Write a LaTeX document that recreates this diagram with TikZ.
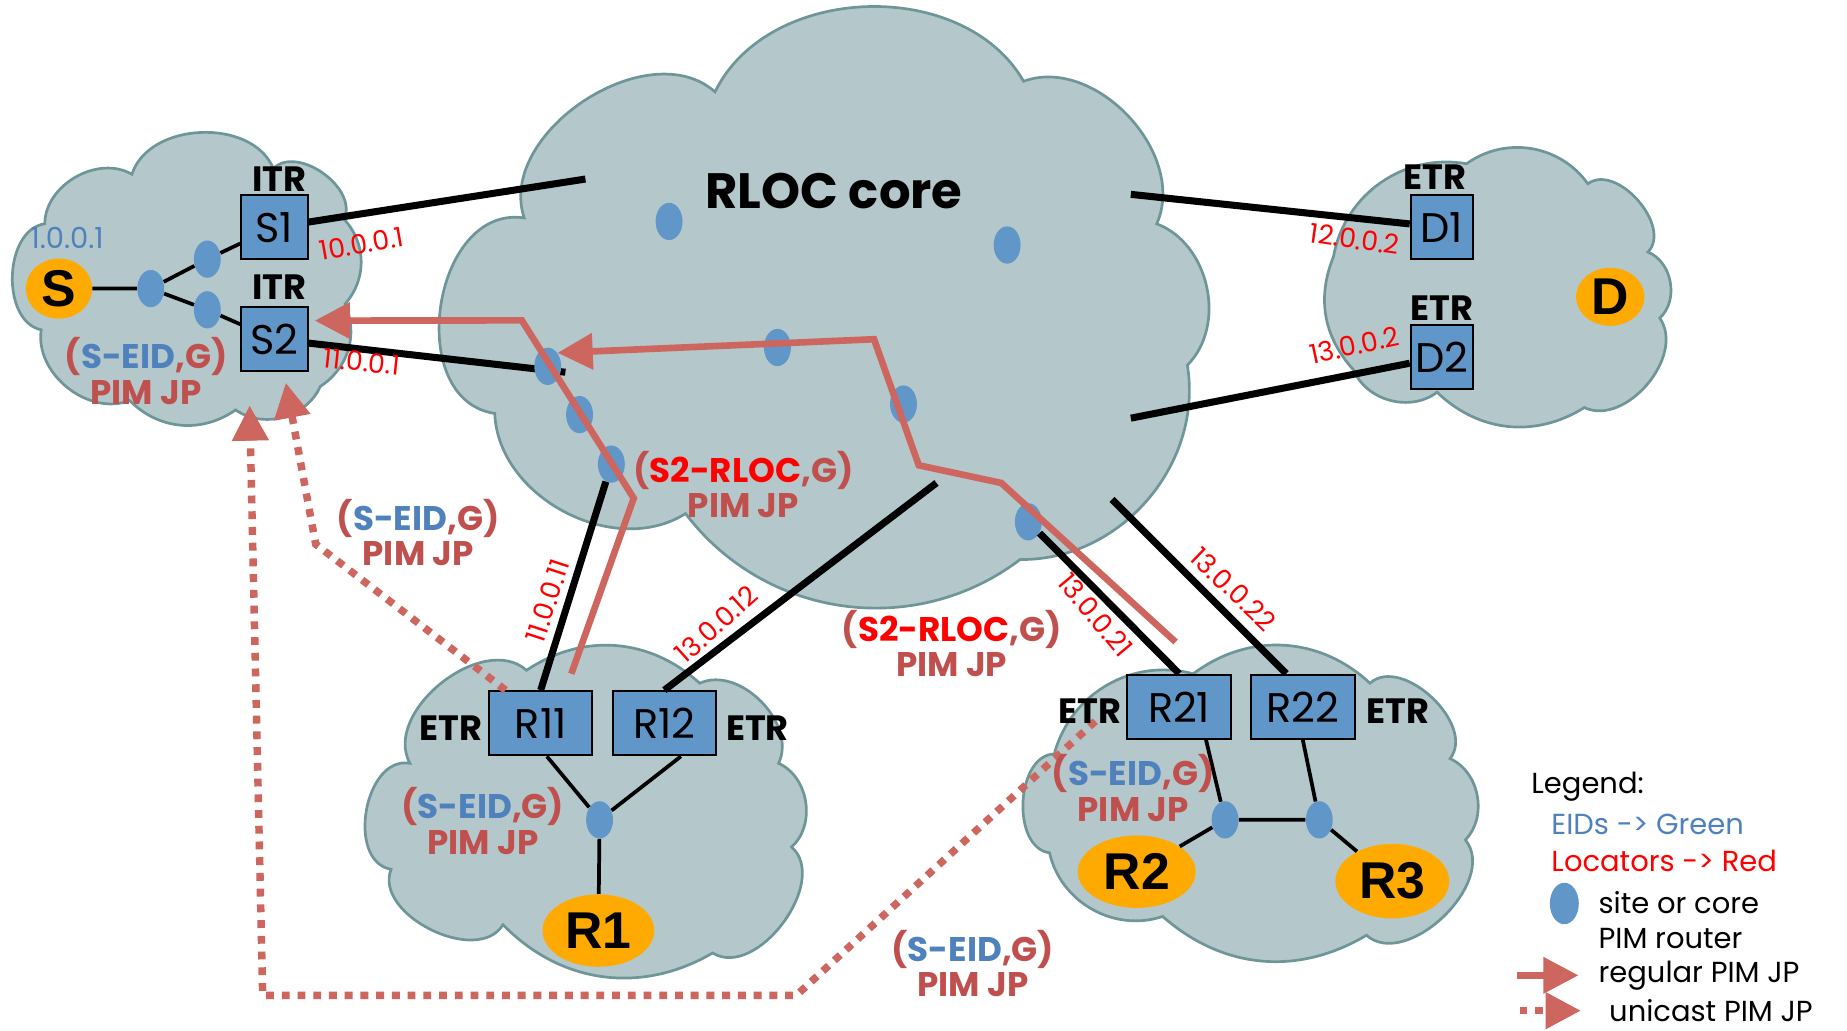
\documentclass[tikz,border=0pt]{standalone}
\usepackage{fontspec}
\setmainfont{Poppins}
\newfontfamily\hostfont{Liberation Sans}
\usetikzlibrary{arrows.meta,shapes.geometric}

\definecolor{cloudfill}{HTML}{B4C7CA}
\definecolor{cloudedge}{HTML}{6E9598}
\definecolor{boxblue}{HTML}{6096C8}
\definecolor{hostorange}{HTML}{FFAA00}
\definecolor{jpred}{HTML}{CD665E}
\definecolor{lblred}{HTML}{C0504D}
\definecolor{eidblue}{HTML}{4F81BD}
\definecolor{ipred}{HTML}{FF0000}

\newcommand{\seid}{{\color{lblred}(}{\color{eidblue}S-EID}{\color{lblred},G)}}
\newcommand{\srloc}{{\color{lblred}(}{\color{ipred}S2-RLOC}{\color{lblred},G)}}

\tikzset{
    cloudline/.style = {draw = cloudedge, fill = cloudfill, line width = 1.3pt},
    rtr/.style = {draw = black, fill = boxblue, line width = 1pt, minimum width = 32pt, minimum height = 31pt, inner sep = 0pt, font = \fontsize{20}{20}\selectfont},
    host/.style = {ellipse, fill = hostorange, inner sep = 0pt, font = \hostfont\bfseries\fontsize{25}{25}\selectfont},
    pimdot/.style = {ellipse, fill = boxblue, minimum width = 13pt, minimum height = 18pt, inner sep = 0pt},
    link/.style = {line width = 3.4pt},
    sitelink/.style = {line width = 1.8pt},
    jp/.style = {draw = jpred, line width = 3.2pt, -{Triangle[length = 17pt, width = 17pt]}},
    ujp/.style = {jp, line width = 3.6pt, dash pattern = on 3.8pt off 3.8pt},
    role/.style = {inner sep = 1pt, font = \bfseries\fontsize{17}{17}\selectfont},
    ip/.style = {inner sep = 0.5pt, text = ipred, font = \fontsize{13}{13}\selectfont},
    pimlabel/.style = {inner sep = 0.5pt, align = center, text = lblred, font = \bfseries\fontsize{16.5}{17}\selectfont},
    legend/.style = {anchor = west, inner sep = 1pt, font = \fontsize{14}{14}\selectfont}
}

\begin{document}
\begin{tikzpicture}[x = 0.02cm, y = -0.02cm]
    \useasboundingbox (0,0) rectangle (1568,875);
    % clouds
    \draw [cloudline] (445,185) to[bend left=75] (607,78) to[bend left=62] (869,69) to[bend left=67] (982,190) to[bend left=57] (1008,310) to[bend left=50] (866,475) to[bend left=45] (582,436) to[bend left=60] (420,351) to[bend left=90, looseness=1.2] (445,185) -- cycle;
    \draw [cloudline] (38,190) to[bend left=60] (112,148) to[bend left=70] (232,143) to[bend left=80] (292,186) to[bend left=42] (293,258) to[bend left=40] (272,328) to[bend left=50] (200,348) to[bend left=40] (110,340) to[bend left=60] (35,280) to[bend left=80] (38,190) -- cycle;
    \draw [cloudline] (1132,218) to[bend left=45] (1245,139) to[bend left=45] (1348,156) to[bend left=85] (1399,214) to[bend left=58] (1409,270) to[bend left=75] (1345,346) to[bend left=38] (1220,333) to[bend left=52] (1149,314) to[bend left=32] (1132,218) -- cycle;
    \draw [cloudline] (348,648) to[bend left=80] (447,569) to[bend left=38] (594,580) to[bend left=70] (661,648) to[bend left=57] (672,719) to[bend left=85] (605,809) to[bend left=38] (427,785) to[bend left=85] (332,738) to[bend left=90, looseness=1.1] (348,648) -- cycle;
    \draw [cloudline] (895,640) to[bend left=45] (1013,572) to[bend left=40] (1163,580) to[bend left=85] (1231,644) to[bend left=55] (1244,713) to[bend left=85] (1160,794) to[bend left=36] (987,778) to[bend left=48] (891,724) to[bend left=85] (895,640) -- cycle;

    % xTR routers
    \node [rtr] (S1) at (233,193) {S1};
    \node [rtr] (S2) at (233,288) {S2};
    \node [rtr, minimum width = 30pt] (D1) at (1224,193) {D1};
    \node [rtr, minimum width = 30pt] (D2) at (1224,303) {D2};
    \node [rtr, minimum width = 50pt] (R11) at (459,614) {R11};
    \node [rtr, minimum width = 50pt] (R12) at (564,614) {R12};
    \node [rtr, minimum width = 50pt] (R21) at (1001,600) {R21};
    \node [rtr, minimum width = 50pt] (R22) at (1106,600) {R22};

    % hosts
    \node [host, minimum width = 32pt, minimum height = 29pt] (S) at (50,245) {S};
    \node [host, minimum width = 33pt, minimum height = 28pt] (D) at (1367,252) {D};
    \node [host, minimum width = 54pt, minimum height = 35pt] (R1) at (508,790) {R1};
    \node [host, minimum width = 57pt, minimum height = 35pt] (R2) at (965,740) {R2};
    \node [host, minimum width = 55pt, minimum height = 36pt] (R3) at (1182,748) {R3};

    % RLOC links
    \coordinate (k1) at (497,152);
    \coordinate (k2) at (480,316);
    \coordinate (k3) at (960,165);
    \coordinate (k4) at (960,355);
    \coordinate (k5) at (795,410);
    \coordinate (k6) at (944,424);
    \draw [link] (S1) -- (k1);
    \draw [link] (S2) -- (k2);
    \draw [link] (k3) -- (D1);
    \draw [link] (k4) -- (D2);
    \draw [link] (k5) -- (R12.north);
    \draw [link] (k6) -- ([xshift = -8pt]R22.north);

    % PIM routers
    \node [pimdot] (s1) at (128,245) {};
    \node [pimdot] (s2) at (176,220) {};
    \node [pimdot] (s3) at (176,263) {};
    \node [pimdot] (c1) at (568,188) {};
    \node [pimdot] (c2) at (855,208) {};
    \node [pimdot] (c3) at (660,295) {};
    \node [pimdot] (c4) at (767,343) {};
    \node [pimdot] (c5) at (465,311) {};
    \node [pimdot] (c6) at (492,352) {};
    \node [pimdot] (c7) at (519,394) {};
    \node [pimdot] (c8) at (873,443) {};
    \node [pimdot] (r1d) at (509,696) {};
    \node [pimdot] (r2d) at (1040,696) {};
    \node [pimdot] (r3d) at (1120,696) {};

    \draw [link] (c7) -- (R11.north);
    \draw [link] (c8) -- (R21.north);
    \draw [sitelink] (S) -- (s1) -- (s2) -- (S1);
    \draw [sitelink] (s1) -- (s3) -- (S2);
    \draw [sitelink] ([xshift = 3pt]R11.south) -- (r1d) -- (R1);
    \draw [sitelink] ([xshift = 8pt]R12.south) -- (r1d);
    \draw [sitelink] ([xshift = 13pt]R21.south) -- (r2d) -- (r3d) -- (R22.south);
    \draw [sitelink] (R2) -- (r2d);
    \draw [sitelink] (r3d) -- (R3);

    % joins
    \coordinate (j1) at (485,572);
    \coordinate (j2) at (998,545);
    \draw [jp] (j1) -- (538,423) -- (443,272) -- ([xshift = 3pt, yshift = 9pt]S2.east);
    \draw [jp] (j2) -- (850,410) -- (780,395) -- (742,288) -- (c5.north east);
    \draw [ujp] ([xshift = 8.5pt]R11.north west) -- (268,462) -- ([xshift = 5.5pt, yshift = -5pt]S2.south);
    \draw [ujp] ([xshift = -15pt, yshift = -7pt]R21.west) -- (676,845) -- (223,845) -- ([xshift = -12pt, yshift = -16pt]S2.south);

    % texts
    \node [font = \bfseries\fontsize{24}{24}\selectfont] (core) at (708,162) {RLOC core};
    \node [role] (itr1) at (237,152) {ITR};
    \node [role] (itr2) at (237,244) {ITR};
    \node [role] (etr1) at (1218,150) {ETR};
    \node [role] (etr2) at (1224,262) {ETR};
    \node [role] (etr11) at (383,618) {ETR};
    \node [role] (etr12) at (643,618) {ETR};
    \node [role] (etr21) at (925,604) {ETR};
    \node [role] (etr22) at (1187,604) {ETR};

    \node [ip, text = eidblue, font = \fontsize{14}{14}\selectfont] (ipS) at (57,202) {1.0.0.1};
    \node [ip, rotate = 10] (ipS1) at (307,207) {10.0.0.1};
    \node [ip, rotate = -6] (ipS2) at (307,307) {11.0.0.1};
    \node [ip, rotate = -8] (ipD1) at (1150,203) {12.0.0.2};
    \node [ip, rotate = 12] (ipD2) at (1150,293) {13.0.0.2};
    \node [ip, rotate = 72] (ipR11) at (465,510) {11.0.0.11};
    \node [ip, rotate = 42] (ipR12) at (608,530) {13.0.0.12};
    \node [ip, rotate = -50] (ipR21) at (930,522) {13.0.0.21};
    \node [ip, rotate = -44] (ipR22) at (1047,500) {13.0.0.22};

    \node [pimlabel] (jpS) at (124,315) {\seid\\PIM JP};
    \node [pimlabel] (jpc1) at (631,411) {\srloc\\PIM JP};
    \node [pimlabel] (jpu1) at (355,452) {\seid\\PIM JP};
    \node [pimlabel] (jpc2) at (808,546) {\srloc\\PIM JP};
    \node [pimlabel] (jpR1) at (410,697) {\seid\\PIM JP};
    \node [pimlabel] (jpR2) at (962,669) {\seid\\PIM JP};
    \node [pimlabel] (jpu2) at (826,818) {\seid\\PIM JP};

    % legend
    \node [legend] (lgt) at (1298,668) {Legend:};
    \node [legend, text = eidblue] (lge) at (1315,700) {EIDs -> Green};
    \node [legend, text = ipred] (lgl) at (1315,731) {Locators -> Red};
    \node [pimdot, minimum width = 14pt, minimum height = 20pt] (lgd) at (1328,767) {};
    \node [legend] (lgs) at (1355,766) {site or core};
    \node [legend] (lgp) at (1355,797) {PIM router};
    \coordinate (lga1) at (1288,828);
    \coordinate (lga2) at (1340,828);
    \draw [jp] (lga1) -- (lga2);
    \node [legend] (lgr) at (1355,828) {regular PIM JP};
    \coordinate (lgb1) at (1290,858);
    \coordinate (lgb2) at (1342,858);
    \draw [ujp] (lgb1) -- (lgb2);
    \node [legend] (lgu) at (1364,858) {unicast PIM JP};
\end{tikzpicture}
\end{document}
